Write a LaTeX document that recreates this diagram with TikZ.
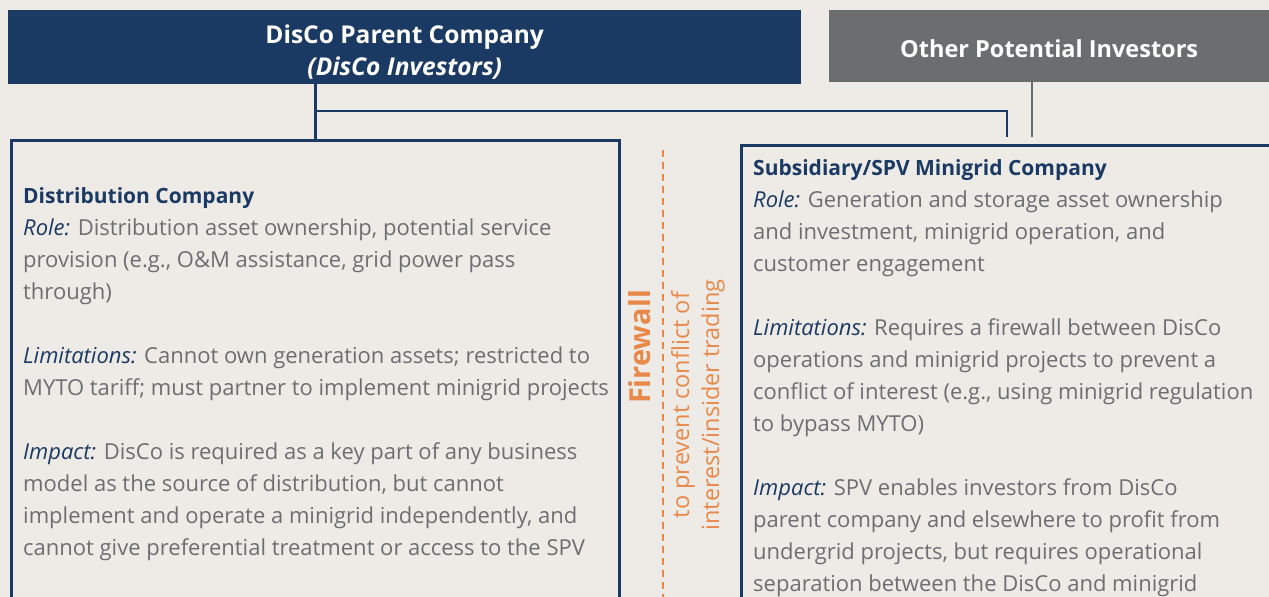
\documentclass[tikz,border=0pt]{standalone}
\usepackage{fontspec}
\setmainfont{Open Sans}
\usetikzlibrary{positioning}
\definecolor{discoblue}{HTML}{1B3A63}
\definecolor{investgray}{HTML}{6B6E6F}
\definecolor{fireorange}{HTML}{E8894A}
\definecolor{bodygray}{HTML}{6D6E71}
\definecolor{paper}{HTML}{EEEBE7}

\begin{document}
\begin{tikzpicture}[x=1pt,y=-1pt,
    headbox/.style={inner sep=0pt, anchor=north west},
    headtext/.style={text=white, font=\bfseries\fontsize{24.5}{32}\selectfont,
      align=center, inner sep=0pt},
    framebox/.style={draw=discoblue, line width=2.5pt, inner sep=0pt, anchor=north west},
    bodytext/.style={text=bodygray, font=\fontsize{22}{32}\selectfont,
      align=left, inner sep=0pt, anchor=north west},
    link/.style={draw=discoblue, line width=2.5pt},
    graylink/.style={draw=investgray, line width=2pt}]

    % Page
    \fill[paper] (0,0) rectangle (1269,597);
    \clip (0,0) rectangle (1269,597);

    % Owners
    \node[headbox, fill=discoblue, minimum width=793pt, minimum height=74pt] (parent) at (8,10) {};
    \node[headtext] (parenttitle) at ([yshift=-5pt]parent.center)
      {DisCo Parent Company\\[0pt]\textit{(DisCo Investors)}};
    \node[headbox, fill=investgray, minimum width=440pt, minimum height=72pt] (others) at (829,10) {};
    \node[headtext, font=\bfseries\fontsize{23.5}{32}\selectfont] (otherstitle)
      at ([yshift=-2pt]others.center) {Other Potential Investors};

    % Companies
    \node[framebox, minimum width=608pt, minimum height=520pt] (distco) at (10,139) {};
    \node[framebox, minimum width=560pt, minimum height=520pt] (spv) at (740,144) {};
    \coordinate (spvin) at (1007,137);
    \coordinate (otherin) at (1032,137);

    \newcommand{\hd}[1]{\textcolor{discoblue}{\fontsize{21}{32}\selectfont\textbf{#1}}}
    \newcommand{\lbl}[1]{\textcolor{discoblue}{\textit{#1}}}

    \node[bodytext] (distcotext) at (23,187) {%
      \hd{Distribution Company}\\
      \lbl{Role:} Distribution asset ownership, potential service\\
      provision (e.g., O\&M assistance, grid power pass\\
      through)\\[32pt]
      \lbl{Limitations:} Cannot own generation assets; restricted to\\
      MYTO tariff; must partner to implement minigrid projects\\[32pt]
      \lbl{Impact:} DisCo is required as a key part of any business\\
      model as the source of distribution, but cannot\\
      implement and operate a minigrid independently, and\\
      cannot give preferential treatment or access to the SPV};

    \node[bodytext] (spvtext) at (753,159) {%
      \hd{Subsidiary/SPV Minigrid Company}\\
      \lbl{Role:} Generation and storage asset ownership\\
      and investment, minigrid operation, and\\
      customer engagement\\[32pt]
      \lbl{Limitations:} Requires a firewall between DisCo\\
      operations and minigrid projects to prevent a\\
      conflict of interest (e.g., using minigrid regulation\\
      to bypass MYTO)\\[32pt]
      \lbl{Impact:} SPV enables investors from DisCo\\
      parent company and elsewhere to profit from\\
      undergrid projects, but requires operational\\
      separation between the DisCo and minigrid};

    % Connectors
    \draw[link] (parent.south -| distco.north) -- (distco.north);
    \draw[link] (distco.north |- 0,111) -| (spvin);
    \draw[graylink] (others.south -| otherin) -- (otherin);

    % Firewall
    \coordinate (fwtop) at (663,150);
    \coordinate (fwbot) at (663,597);
    \draw[fireorange, line width=2pt, dash pattern=on 7pt off 5pt] (fwtop) -- (fwbot);
    \node[rotate=90, text=fireorange, font=\bfseries\fontsize{29}{30}\selectfont, inner sep=0pt]
      (fwlabel) at (640,347) {Firewall};
    \node[rotate=90, text=fireorange, font=\fontsize{23.5}{30}\selectfont, align=center, inner sep=0pt]
      (fwnote) at (698,405) {to prevent conflict of\\interest/insider trading};
  \end{tikzpicture}
\end{document}
